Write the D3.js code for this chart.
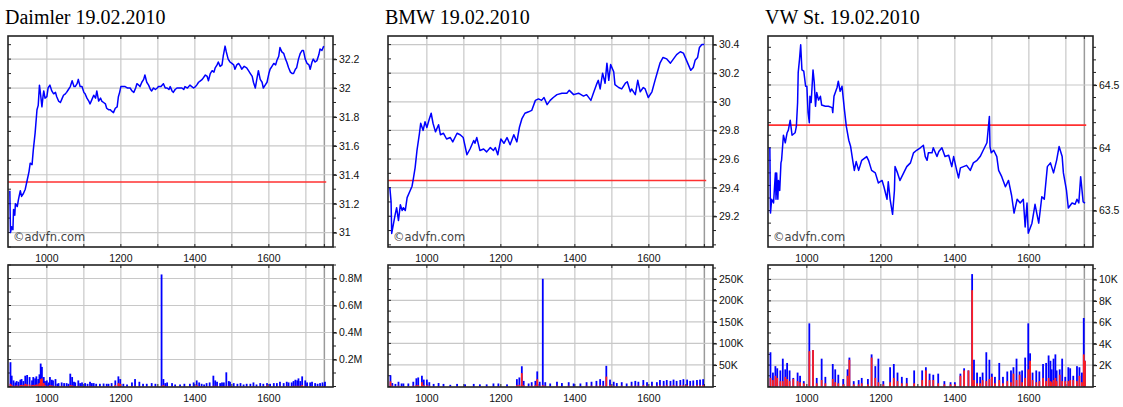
<!DOCTYPE html>
<html><head><meta charset="utf-8">
<script src="https://cdn.jsdelivr.net/npm/d3@7"></script>
<style>body{margin:0;background:#fff;} svg{display:block}</style>
</head><body><svg id="c" width="1123" height="407"></svg>
<script>
// ---- data ----
const OPEN_MIN = 540;            // 09:00, times below are minutes after open
const CLOSE_MIN = 1050;          // 17:30
const titles = ["Daimler 19.02.2010", "BMW 19.02.2010", "VW St. 19.02.2010"];
const xLabelTimes = [600, 720, 840, 960];
const hourGridTimes = [600, 660, 720, 780, 840, 900, 960, 1020];

const daimlerPrevClose = 31.35;
const bmwPrevClose = 29.45;
const vwPrevClose = 64.18;

const daimlerPriceTicks = [31, 31.2, 31.4, 31.6, 31.8, 32, 32.2];
const bmwPriceTicks = [29.2, 29.4, 29.6, 29.8, 30, 30.2, 30.4];
const vwPriceTicks = [63.5, 64, 64.5];

const daimlerVolTicksK = [200, 400, 600, 800];
const bmwVolTicksK = [50, 100, 150, 200, 250];
const vwVolTicksK = [2, 4, 6, 8, 10];
const daimlerVolLabels = ["0.2M", "0.4M", "0.6M", "0.8M"];
const bmwVolLabels = ["50K", "100K", "150K", "200K", "250K"];
const vwVolLabels = ["2K", "4K", "6K", "8K", "10K"];

// [minutes after open, price]
const daimlerPrices = [[0,31.29],[1,31.00],[3,31.04],[5,31.02],[6,31.16],[8,31.12],[9,31.20],[12,31.18],[14,31.23],[17,31.29],[19,31.25],[22,31.27],[25,31.30],[28,31.36],[31,31.42],[33,31.48],[36,31.47],[38,31.57],[41,31.69],[44,31.85],[46,31.88],[48,32.02],[50,31.95],[52,31.87],[54,31.95],[55,31.98],[57,31.93],[60,31.94],[62,32.00],[65,32.02],[68,31.98],[71,31.96],[74,31.97],[76,31.94],[79,31.91],[82,31.90],[85,31.93],[87,31.95],[90,31.96],[92,31.97],[95,31.99],[98,32.01],[101,32.05],[104,32.01],[106,32.01],[109,32.03],[111,32.06],[114,32.01],[117,32.01],[120,31.97],[122,31.96],[125,31.93],[128,31.91],[130,31.89],[133,31.92],[136,31.95],[139,31.93],[141,31.98],[144,31.91],[147,31.93],[149,31.91],[152,31.90],[155,31.89],[157,31.86],[160,31.85],[163,31.85],[165,31.84],[168,31.83],[171,31.86],[174,31.87],[176,31.94],[178,31.97],[180,32.01],[184,32.01],[187,32.01],[191,32.00],[195,32.00],[198,31.98],[201,31.97],[204,32.00],[206,32.03],[209,32.02],[211,32.01],[214,32.04],[217,32.06],[219,32.09],[222,32.04],[225,32.02],[228,31.99],[230,31.98],[233,32.00],[236,31.99],[239,32.00],[241,32.01],[245,32.01],[249,32.03],[252,32.00],[255,32.00],[258,31.99],[260,32.01],[263,31.98],[265,31.97],[268,31.99],[271,32.00],[275,32.00],[279,32.00],[282,31.99],[284,32.01],[288,32.00],[292,32.02],[295,32.01],[298,32.00],[301,32.01],[303,32.02],[306,32.04],[309,32.05],[312,32.06],[317,32.09],[320,32.08],[322,32.05],[325,32.10],[328,32.12],[331,32.11],[333,32.14],[336,32.16],[338,32.18],[341,32.15],[344,32.16],[346,32.22],[349,32.29],[351,32.25],[354,32.20],[357,32.18],[360,32.17],[363,32.16],[365,32.13],[368,32.16],[371,32.17],[374,32.15],[376,32.13],[380,32.15],[384,32.14],[387,32.12],[390,32.10],[393,32.08],[395,32.04],[398,32.00],[400,32.05],[403,32.12],[406,32.06],[409,32.04],[411,32.00],[414,32.02],[417,32.04],[420,32.10],[422,32.13],[425,32.15],[428,32.17],[431,32.16],[433,32.19],[436,32.22],[438,32.28],[441,32.25],[444,32.24],[447,32.20],[449,32.18],[452,32.14],[455,32.11],[458,32.10],[460,32.10],[463,32.13],[465,32.14],[468,32.20],[471,32.24],[474,32.26],[476,32.26],[479,32.20],[482,32.17],[485,32.16],[487,32.13],[490,32.18],[492,32.20],[495,32.18],[498,32.19],[501,32.23],[503,32.27],[506,32.26],[509,32.29]];

const bmwPrices = [[0,29.40],[2,29.30],[3,29.08],[6,29.15],[9,29.22],[11,29.26],[14,29.17],[17,29.28],[20,29.24],[22,29.26],[25,29.24],[28,29.33],[33,29.38],[36,29.41],[38,29.46],[41,29.54],[44,29.66],[48,29.78],[50,29.85],[54,29.80],[57,29.86],[60,29.82],[64,29.88],[67,29.92],[70,29.85],[74,29.79],[79,29.84],[82,29.77],[87,29.78],[92,29.74],[98,29.75],[102,29.72],[109,29.78],[114,29.77],[119,29.75],[125,29.63],[130,29.67],[136,29.73],[138,29.71],[141,29.75],[146,29.66],[152,29.67],[157,29.65],[163,29.68],[168,29.66],[171,29.68],[175,29.63],[180,29.74],[185,29.71],[190,29.75],[195,29.70],[201,29.77],[206,29.72],[210,29.82],[214,29.88],[219,29.92],[225,29.93],[230,29.94],[236,30.01],[241,30.02],[246,30.01],[250,30.03],[255,29.98],[260,30.01],[265,30.03],[271,30.05],[279,30.06],[287,30.06],[291,30.08],[298,30.05],[306,30.06],[314,30.04],[319,30.05],[326,30.01],[330,30.06],[335,30.12],[338,30.15],[341,30.09],[345,30.20],[349,30.13],[352,30.27],[355,30.15],[358,30.26],[363,30.21],[365,30.12],[371,30.10],[376,30.09],[382,30.13],[385,30.14],[390,30.07],[392,30.09],[398,30.05],[402,30.15],[406,30.07],[411,30.10],[414,30.09],[419,30.03],[425,30.07],[430,30.15],[434,30.21],[438,30.27],[443,30.31],[449,30.30],[455,30.27],[460,30.30],[465,30.33],[471,30.35],[476,30.34],[480,30.30],[484,30.26],[488,30.22],[492,30.24],[495,30.29],[499,30.31],[502,30.38],[506,30.40],[510,30.40]];

const vwPrices = [[0,64.00],[1,63.48],[3,63.59],[6,63.56],[9,63.80],[10,63.59],[11,63.80],[13,63.59],[14,63.74],[16,63.66],[18,63.88],[19,63.90],[22,64.10],[25,64.04],[28,64.12],[30,64.14],[33,64.22],[36,64.10],[41,64.12],[43,64.17],[45,64.36],[46,64.60],[48,64.70],[50,64.82],[52,64.62],[55,64.61],[58,64.49],[60,64.49],[62,64.28],[64,64.20],[65,64.41],[67,64.36],[70,64.62],[72,64.52],[74,64.33],[76,64.44],[79,64.38],[82,64.41],[84,64.34],[90,64.33],[95,64.33],[101,64.32],[102,64.28],[104,64.41],[109,64.48],[111,64.53],[114,64.45],[117,64.49],[121,64.30],[124,64.17],[128,64.06],[131,64.01],[135,63.88],[137,63.82],[140,63.89],[144,63.82],[149,63.90],[157,63.93],[160,63.90],[165,63.82],[171,63.80],[176,63.72],[182,63.74],[185,63.69],[190,63.59],[192,63.73],[195,63.59],[199,63.47],[202,63.66],[203,63.85],[207,63.80],[211,63.74],[217,63.80],[222,63.85],[228,63.88],[233,63.96],[238,63.98],[244,64.00],[249,64.02],[252,63.93],[255,63.90],[257,63.96],[263,63.96],[265,64.00],[271,63.93],[274,63.97],[279,64.00],[284,63.93],[290,63.94],[295,63.85],[298,63.93],[303,63.82],[306,63.76],[309,63.84],[314,63.85],[319,63.86],[325,63.82],[330,63.88],[336,63.90],[341,63.93],[346,63.98],[352,64.04],[356,64.25],[357,64.01],[359,63.96],[363,63.98],[368,63.93],[371,63.82],[376,63.77],[382,63.69],[387,63.74],[392,63.62],[396,63.48],[401,63.59],[406,63.56],[411,63.59],[414,63.37],[417,63.56],[419,63.32],[425,63.40],[430,63.55],[436,63.40],[441,63.61],[445,63.59],[450,63.85],[455,63.88],[460,63.80],[465,63.90],[469,64.01],[474,63.93],[476,63.80],[481,63.66],[484,63.52],[490,63.56],[495,63.55],[498,63.59],[501,63.56],[504,63.77],[508,63.57],[511,63.56]];

// [minutes after open, total volume (K), sell part (K)]
const daimlerVolumes = [[1,180,20],[3,80,10],[6,45,5],[9,30,5],[11,40,8],[14,35,5],[17,50,10],[19,55,12],[22,40,10],[25,80,20],[28,85,15],[32,70,15],[36,45,10],[38,70,12],[41,60,10],[43,75,15],[46,55,15],[48,90,25],[50,170,55],[52,145,60],[55,70,25],[57,40,10],[60,45,5],[63,30,5],[65,70,10],[68,50,8],[70,45,5],[74,55,5],[77,20,3],[79,25,3],[84,30,5],[88,25,3],[92,25,3],[95,20,3],[98,95,10],[101,70,8],[104,35,5],[106,30,3],[111,45,5],[114,25,3],[117,30,3],[122,25,3],[126,20,3],[130,35,5],[133,25,3],[136,25,3],[140,20,3],[146,20,3],[152,22,3],[157,20,3],[160,20,3],[165,25,3],[171,45,10],[176,75,25],[179,55,20],[184,20,3],[190,15,2],[198,30,3],[203,55,5],[210,35,3],[216,20,3],[222,20,2],[230,25,3],[236,20,3],[246,830,5],[249,55,10],[252,25,3],[255,30,3],[263,25,3],[268,15,2],[276,15,2],[283,20,3],[292,20,3],[298,30,3],[303,45,10],[307,30,3],[311,20,3],[315,15,2],[319,25,3],[324,30,3],[330,80,5],[333,45,5],[336,35,5],[341,25,3],[344,30,3],[347,30,3],[351,105,5],[355,40,5],[357,35,3],[363,25,3],[369,20,3],[374,25,3],[379,15,2],[384,20,3],[390,20,3],[395,30,3],[400,15,2],[406,25,3],[411,20,3],[417,25,8],[422,20,3],[428,25,3],[433,25,3],[438,35,5],[444,25,3],[449,35,5],[452,30,3],[457,30,3],[460,40,5],[463,50,5],[466,45,5],[468,60,5],[471,40,5],[474,75,10],[479,45,5],[482,30,3],[487,30,3],[490,35,3],[495,25,3],[499,20,3],[503,25,3],[507,30,3],[511,35,3]];

const bmwVolumes = [[1,26,12],[4,8,2],[9,6,1],[14,11,2],[19,7,1],[22,7,1],[30,7,1],[38,11,2],[43,19,3],[46,21,3],[52,25,10],[55,16,3],[60,16,3],[64,10,2],[71,6,1],[79,8,1],[87,6,1],[98,4,1],[109,6,1],[122,5,1],[136,6,1],[146,5,1],[157,5,1],[168,7,1],[176,7,1],[190,5,1],[206,17,3],[210,21,4],[214,47,31],[217,13,3],[225,7,1],[230,10,2],[236,13,3],[239,35,17],[243,11,2],[248,250,3],[252,10,2],[260,7,1],[271,11,2],[279,8,1],[290,10,2],[298,7,1],[309,7,1],[319,10,2],[327,11,2],[335,13,2],[341,17,3],[346,13,2],[351,48,23],[357,16,3],[363,11,2],[368,8,1],[376,10,2],[384,7,1],[392,11,2],[398,13,2],[403,11,2],[411,15,3],[417,10,2],[425,11,2],[433,10,2],[438,15,3],[444,13,2],[449,15,3],[455,13,2],[460,16,3],[465,13,2],[471,15,3],[476,17,3],[482,16,3],[487,13,2],[492,14,2],[498,15,3],[503,16,3],[508,17,3]];

const vwVolumes = [[1,3.2,0.8],[5,1.3,0.6],[9,1.9,1.0],[12,1.7,0.8],[17,1.5,0.5],[21,2.6,0.5],[25,1.6,0.9],[28,2.2,0.7],[32,1.5,0.5],[38,0.8,0.7],[45,1.3,0.5],[49,1.0,0.4],[55,0.5,0.3],[64,5.9,3.3],[70,3.4,3.4],[76,0.8,0.3],[84,2.6,0.6],[90,0.9,0.3],[102,2.1,0.7],[106,1.6,0.4],[111,1.1,0.3],[119,0.7,0.2],[126,1.6,1.0],[129,2.7,2.5],[136,0.5,0.2],[144,0.6,0.2],[149,0.8,0.3],[159,0.7,0.2],[165,3.0,2.7],[171,1.9,0.8],[176,2.6,0.4],[184,0.5,0.2],[195,1.8,0.4],[201,2.1,0.8],[207,1.3,0.5],[214,0.9,0.3],[222,0.8,0.3],[234,1.5,0.3],[247,1.5,0.6],[253,1.8,1.5],[259,1.2,0.6],[265,1.1,0.6],[273,1.2,0.3],[283,0.5,0.2],[293,0.4,0.2],[300,0.4,0.2],[309,1.2,1.0],[315,1.7,1.5],[322,1.5,1.5],[328,10.5,9.0],[331,2.5,0.6],[336,1.3,0.3],[341,0.9,0.3],[345,1.3,0.6],[351,3.2,0.5],[356,2.5,0.7],[360,1.2,0.9],[365,0.9,0.3],[372,2.2,0.6],[378,0.9,0.3],[385,1.4,0.5],[391,1.5,0.4],[395,1.8,1.2],[400,2.6,0.6],[405,1.4,1.1],[409,1.5,0.4],[414,2.7,0.8],[419,5.9,1.6],[422,3.1,2.4],[426,1.3,0.6],[432,1.5,0.4],[437,1.4,0.5],[443,2.1,0.8],[448,2.2,0.5],[452,2.9,0.8],[455,2.4,0.5],[457,1.6,0.4],[460,2.6,0.6],[463,3.0,0.8],[465,1.5,0.5],[470,1.6,1.1],[474,2.6,0.5],[479,0.9,0.5],[484,1.8,0.5],[487,1.7,0.6],[492,1.0,0.6],[498,1.9,0.5],[502,1.8,1.0],[506,1.3,0.4],[509,6.4,3.0],[511,2.4,2.4]];

// ---- layout / drawing ----
const panels = [
  {title: titles[0], prices: daimlerPrices, prev: daimlerPrevClose, pTicks: daimlerPriceTicks, pDomain: [30.90, 32.36], pMinorStep: 0.1,
   vols: daimlerVolumes, vTicks: daimlerVolTicksK, vLabels: daimlerVolLabels, vDomain: [0, 900], vMinorStep: 100},
  {title: titles[1], prices: bmwPrices, prev: bmwPrevClose, pTicks: bmwPriceTicks, pDomain: [28.985, 30.46], pMinorStep: 0.1,
   vols: bmwVolumes, vTicks: bmwVolTicksK, vLabels: bmwVolLabels, vDomain: [0, 282], vMinorStep: 25},
  {title: titles[2], prices: vwPrices, prev: vwPrevClose, pTicks: vwPriceTicks, pDomain: [63.21, 64.89], pMinorStep: 0.1,
   vols: vwVolumes, vTicks: vwVolTicksK, vLabels: vwVolLabels, vDomain: [0, 11.35], vMinorStep: 1}
];

const svg = d3.select("#c");
const L = 8, R = 333, T1 = 36, B1 = 247, T2 = 265, B2 = 387;
const GRID = "#c8c8c8", FRAME = "#222", TXT = "#111";
const fmtTime = m => `${Math.floor(m / 60)}${String(m % 60).padStart(2, "0")}`;
const fmtPrice = v => String(+v.toFixed(2));

function minors(domain, step) {
  const out = [];
  for (let v = Math.ceil(domain[0] / step - 1e-9) * step; v <= domain[1] + 1e-9; v += step) out.push(+v.toFixed(4));
  return out;
}

panels.forEach((p, i) => {
  const g = svg.append("g").attr("transform", `translate(${i * 380},0)`);
  const x = d3.scaleLinear().domain([537, 1064]).range([L, R]);
  const y = d3.scaleLinear().domain(p.pDomain).range([B1, T1]);
  const yv = d3.scaleLinear().domain(p.vDomain).range([B2 - 0.5, T2]);

  g.append("text").attr("x", 5).attr("y", 24).text(p.title)
    .attr("font-family", "Liberation Serif, Times New Roman, serif").attr("font-size", 20).attr("fill", "#000");

  [[T1, B1, y, p.pTicks, p.pDomain, p.pMinorStep, fmtPrice, null], [T2, B2, yv, p.vTicks, p.vDomain, p.vMinorStep, null, p.vLabels]]
  .forEach(([top, bot, ys, ticks, dom, step, fmt, labels]) => {
    const c = g.append("g");
    // vertical grid
    c.selectAll(".vg").data(hourGridTimes).join("line")
      .attr("x1", d => x(d)).attr("x2", d => x(d)).attr("y1", top).attr("y2", bot)
      .attr("stroke", GRID).attr("stroke-width", 1.2);
    c.append("line").attr("x1", x(CLOSE_MIN)).attr("x2", x(CLOSE_MIN)).attr("y1", top).attr("y2", bot)
      .attr("stroke", "#9a9a9a").attr("stroke-width", 1.5);
    // horizontal grid
    c.selectAll(".hg").data(ticks).join("line")
      .attr("x1", L).attr("x2", R).attr("y1", d => ys(d)).attr("y2", d => ys(d))
      .attr("stroke", GRID).attr("stroke-width", 1.2);
    // right axis
    const ax = d3.axisRight(ys).tickValues(ticks).tickSize(4).tickSizeOuter(0).tickPadding(2)
      .tickFormat(labels ? ((d, k) => labels[k]) : fmt);
    const axg = c.append("g").attr("transform", `translate(${R},0)`).call(ax);
    axg.select(".domain").remove();
    axg.selectAll("line").attr("stroke", FRAME).attr("stroke-width", 1.2);
    axg.selectAll("text").attr("font-family", "Liberation Sans, Arial, sans-serif").attr("font-size", 10.5).attr("fill", TXT);
    const mins = minors(dom, step);
    c.selectAll(".mt").data(mins).join("line")
      .attr("x1", R).attr("x2", R + 3).attr("y1", d => ys(d)).attr("y2", d => ys(d))
      .attr("stroke", FRAME).attr("stroke-width", 1);
    c.selectAll(".lt").data(mins).join("line")
      .attr("x1", L).attr("x2", L + 3).attr("y1", d => ys(d)).attr("y2", d => ys(d))
      .attr("stroke", FRAME).attr("stroke-width", 1);
    c.selectAll(".bt").data(hourGridTimes.concat([CLOSE_MIN])).join("line")
      .attr("x1", d => x(d)).attr("x2", d => x(d)).attr("y1", bot).attr("y2", bot - 3)
      .attr("stroke", FRAME).attr("stroke-width", 1);
    c.selectAll(".tt").data(hourGridTimes.concat([CLOSE_MIN])).join("line")
      .attr("x1", d => x(d)).attr("x2", d => x(d)).attr("y1", top).attr("y2", top + 3)
      .attr("stroke", FRAME).attr("stroke-width", 1);
    // x labels
    c.selectAll(".xl").data(xLabelTimes).join("text")
      .attr("x", d => x(d)).attr("y", bot + 14.5).attr("text-anchor", "middle")
      .attr("font-family", "Liberation Sans, Arial, sans-serif").attr("font-size", 10.5).attr("fill", TXT)
      .text(fmtTime);
  });

  // previous close line
  g.append("line").attr("x1", L).attr("x2", x(CLOSE_MIN + 3)).attr("y1", y(p.prev)).attr("y2", y(p.prev))
    .attr("stroke", "#ff3030").attr("stroke-width", 1.6);

  // price line
  const line = d3.line().x(d => x(OPEN_MIN + d[0])).y(d => y(d[1]));
  g.append("path").datum(p.prices).attr("d", line).attr("fill", "none")
    .attr("stroke", "#0000ff").attr("stroke-width", 1.5).attr("stroke-linejoin", "round");

  // watermark
  g.append("text").attr("x", 13).attr("y", 241).text("©advfn.com")
    .attr("font-family", "DejaVu Sans, Verdana, sans-serif").attr("font-size", 11.5).attr("fill", "#444");

  // volume bars
  const bw = 1.8;
  g.append("g").selectAll("rect").data(p.vols).join("rect")
    .attr("x", d => x(OPEN_MIN + d[0]) - bw / 2).attr("width", bw)
    .attr("y", d => yv(d[1])).attr("height", d => yv(0) - yv(d[1]))
    .attr("fill", "#0000ff");
  g.append("g").selectAll("rect").data(p.vols).join("rect")
    .attr("x", d => x(OPEN_MIN + d[0]) - bw / 2).attr("width", bw)
    .attr("y", d => yv(d[2])).attr("height", d => yv(0) - yv(d[2]))
    .attr("fill", "#ff2020");

  // frames
  g.append("rect").attr("x", L).attr("y", T1).attr("width", R - L).attr("height", B1 - T1)
    .attr("fill", "none").attr("stroke", FRAME).attr("stroke-width", 1.6);
  g.append("rect").attr("x", L).attr("y", T2).attr("width", R - L).attr("height", B2 - T2)
    .attr("fill", "none").attr("stroke", FRAME).attr("stroke-width", 1.6);
});
</script></body></html>
